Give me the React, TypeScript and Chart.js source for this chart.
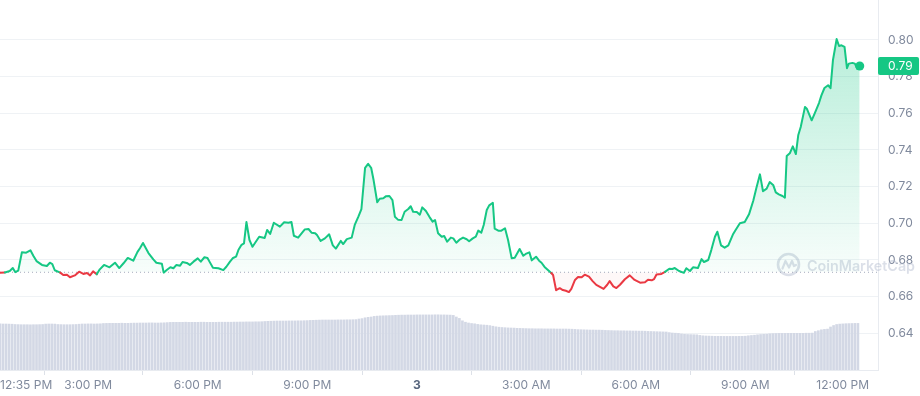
import React, { useEffect, useRef } from 'react';
import { Chart, registerables } from 'chart.js';

Chart.register(...registerables);

const GREEN = '#16c784';
const RED = '#ea3943';
const OPEN_PRICE = 0.6733;

// minutes since 12:35 PM
const PRICE_MINUTES = [
  0, 8, 16, 21, 25, 30, 36, 43, 50, 55, 60, 69, 77, 82, 86, 90, 99, 104, 110, 115,
  123, 130, 137, 143, 148, 153, 159, 164, 171, 180, 189, 196, 203, 210, 219, 226, 230, 235, 244, 252,
  257, 266, 269, 274, 280, 285, 290, 296, 300, 307, 312, 318, 325, 330, 336, 341, 345, 350, 359, 367,
  372, 378, 383, 388, 392, 397, 401, 405, 410, 415, 421, 426, 435, 439, 444, 450, 460, 467, 474, 479,
  483, 490, 496, 501, 507, 512, 518, 521, 527, 534, 541, 547, 552, 560, 564, 570, 578, 583, 589, 594,
  600, 605, 610, 614, 620, 624, 630, 634, 640, 645, 649, 654, 660, 665, 671, 675, 679, 685, 690, 694,
  700, 706, 711, 715, 720, 726, 730, 735, 741, 745, 750, 756, 761, 767, 771, 777, 782, 786, 791, 795,
  800, 804, 810, 813, 819, 824, 830, 835, 841, 846, 854, 860, 864, 870, 874, 881, 886, 890, 895, 906,
  909, 914, 920, 925, 930, 935, 939, 945, 950, 956, 961, 968, 974, 980, 986, 992, 998, 1002, 1008, 1013,
  1019, 1027, 1035, 1043, 1052, 1060, 1065, 1071, 1075, 1079, 1087, 1093, 1100, 1105, 1109, 1116, 1124, 1128, 1134, 1139,
  1147, 1153, 1157, 1164, 1169, 1175, 1179, 1185, 1191, 1197, 1205, 1209, 1216, 1224, 1231, 1238, 1243, 1249, 1254, 1260,
  1265, 1271, 1275, 1280, 1286, 1290, 1293, 1298, 1303, 1308, 1312, 1316, 1323, 1326, 1334, 1339, 1346, 1350, 1355, 1361,
  1365, 1369, 1375, 1379, 1383, 1388, 1392, 1395, 1401, 1405, 1409, 1413,
];

const PRICE_VALUES = [
  0.6731, 0.6732, 0.674, 0.6756, 0.6734, 0.6742, 0.6842, 0.684, 0.6853, 0.6822, 0.6794, 0.6773, 0.6767, 0.6785, 0.6778, 0.6744, 0.6731, 0.6718, 0.672, 0.6706,
  0.6716, 0.6736, 0.6724, 0.6729, 0.6716, 0.6738, 0.6722, 0.6749, 0.6773, 0.676, 0.6785, 0.6756, 0.6782, 0.6811, 0.6796, 0.6844, 0.6864, 0.6893, 0.6838, 0.6803,
  0.6785, 0.678, 0.6731, 0.6745, 0.676, 0.6755, 0.6773, 0.6769, 0.6789, 0.6784, 0.6773, 0.6791, 0.6809, 0.6791, 0.6815, 0.6811, 0.6787, 0.6758, 0.6755, 0.6745,
  0.6763, 0.6791, 0.6811, 0.6818, 0.6856, 0.6883, 0.6891, 0.7007, 0.6909, 0.6872, 0.6902, 0.6927, 0.692, 0.6964, 0.6942, 0.7003, 0.6982, 0.7006, 0.7003, 0.7007,
  0.6932, 0.6922, 0.6947, 0.6967, 0.6969, 0.6949, 0.6946, 0.6936, 0.6904, 0.6918, 0.694, 0.688, 0.6862, 0.6904, 0.6887, 0.6914, 0.6922, 0.6991, 0.7036, 0.7078,
  0.7302, 0.7324, 0.7303, 0.7236, 0.7115, 0.7134, 0.7137, 0.7147, 0.7149, 0.7127, 0.7036, 0.702, 0.7018, 0.7063, 0.7078, 0.7093, 0.7063, 0.7062, 0.7047, 0.7087,
  0.7067, 0.7034, 0.7009, 0.7018, 0.6946, 0.6927, 0.6931, 0.69, 0.6922, 0.6918, 0.6894, 0.6913, 0.6922, 0.6913, 0.6902, 0.6918, 0.6927, 0.696, 0.6949, 0.6991,
  0.7073, 0.7098, 0.7112, 0.6971, 0.696, 0.696, 0.6973, 0.6909, 0.6809, 0.6812, 0.686, 0.6823, 0.6833, 0.6842, 0.6798, 0.6818, 0.6796, 0.6785, 0.6762, 0.6729,
  0.6718, 0.6635, 0.6646, 0.6636, 0.6632, 0.6625, 0.6642, 0.6691, 0.6707, 0.6706, 0.672, 0.6709, 0.6685, 0.6664, 0.6653, 0.6642, 0.6665, 0.6685, 0.6656, 0.6647,
  0.6665, 0.6695, 0.6716, 0.6691, 0.6676, 0.6678, 0.6692, 0.6689, 0.6696, 0.6721, 0.6724, 0.6735, 0.6752, 0.6751, 0.6756, 0.674, 0.673, 0.6755, 0.674, 0.676,
  0.6756, 0.6805, 0.6789, 0.68, 0.6854, 0.6927, 0.6954, 0.688, 0.6867, 0.688, 0.6942, 0.6964, 0.7, 0.7007, 0.7049, 0.7123, 0.7191, 0.7267, 0.7175, 0.7189,
  0.7225, 0.7207, 0.7169, 0.7158, 0.7149, 0.714, 0.7367, 0.7382, 0.742, 0.7378, 0.7482, 0.7525, 0.7635, 0.7625, 0.7562, 0.76, 0.7656, 0.7698, 0.7738, 0.7753,
  0.7737, 0.7891, 0.8005, 0.7967, 0.7971, 0.7962, 0.7846, 0.7871, 0.7875, 0.7871, 0.7842, 0.7858,
];

// rolling 24h volume, one bar every 5 minutes (millions)
const VOLUME_INTERVAL_MIN = 5;
const VOLUME_24H_M = [
  461, 460, 460, 459, 458,
  455, 454, 453, 453, 453, 452, 453, 453, 454, 455,
  459, 460, 460, 459,
  455, 454, 453, 453, 453, 454, 455,
  458, 460, 460, 461, 461, 460, 461, 462,
  465, 466, 467, 467, 467, 467, 468, 467, 467, 468, 469, 469,
  470, 470, 470, 471, 471, 470, 470, 471, 472,
  474, 476, 477, 477, 477, 477, 478, 477, 477, 477, 477, 478, 478, 477, 477, 477, 477, 478, 478, 478, 478, 478, 479, 479,
  480, 480, 481, 481, 481, 482, 482, 483, 485,
  487, 488, 489, 490, 490, 490, 490, 491, 491, 491, 492, 492, 493, 494,
  496, 497, 498, 499, 500, 500, 500, 500, 500, 501, 501, 501, 502, 502, 503, 504,
  510, 514,
  522, 527, 530,
  536, 539, 541, 542, 543, 544, 545,
  547, 548, 549, 549, 550, 550, 550, 551, 551, 551, 551, 551, 551, 552, 552, 551, 551, 550, 549, 546,
  530, 516,
  492, 478,
  470, 465, 462,
  456, 452, 450, 448,
  444, 438,
  432, 428, 425, 423, 421, 420, 419,
  417, 416, 415, 414, 413, 413, 412, 412, 412, 411, 411, 411, 411, 410, 410, 410, 410, 409, 408, 406,
  404, 403, 402, 401, 400, 400, 399, 399, 398,
  396, 395, 394, 393, 393, 392, 392, 391, 391, 390, 390, 389, 389, 388,
  386, 385, 384, 383, 382, 381, 380,
  374, 370, 368, 366,
  360, 357, 355, 354, 353, 352,
  346, 342, 340, 339, 338, 337, 337, 337, 336, 336, 336, 336, 336, 337, 337, 338,
  342, 345, 348,
  352, 355, 357, 358,
  362, 364, 365, 366, 366, 366, 367, 367, 367, 367, 367, 367, 368, 368, 369,
  385, 393,
  402, 406, 409,
  430, 445,
  455, 459, 461, 463, 464, 465, 466, 466,
];

const X_MIN = 0;
const X_MAX = 1443;
const X_TICK_MINUTES = [0, 145, 325, 505, 685, 865, 1045, 1225, 1385, 1443];
const X_TICK_LABELS = ['12:35 PM', '3:00 PM', '6:00 PM', '9:00 PM', '3', '3:00 AM', '6:00 AM', '9:00 AM', '12:00 PM', ''];
const Y_TICKS = [0.64, 0.66, 0.68, 0.7, 0.72, 0.74, 0.76, 0.78, 0.8];
const Y_MIN = 0.62;
const Y_MAX = 0.8218;
const VOLUME_AXIS_MAX = 3700;

const FONT = 'Inter, "Noto Sans", sans-serif';
const LABEL_COLOR = '#808a9d';

const watermarkPlugin = {
  id: 'cmcWatermark',
  beforeDatasetsDraw(chart: any) {
    const { ctx, chartArea } = chart;
    const cx = chartArea.right - 89.5;
    const cy = chartArea.bottom - 105.5;
    const color = 'rgba(175,184,204,0.45)';
    ctx.save();
    ctx.strokeStyle = color;
    ctx.lineWidth = 2.6;
    ctx.beginPath();
    ctx.arc(cx, cy, 10.5, 0, Math.PI * 2);
    ctx.stroke();
    ctx.lineWidth = 2.2;
    ctx.lineJoin = 'round';
    ctx.lineCap = 'round';
    ctx.beginPath();
    ctx.moveTo(cx - 6, cy + 4);
    ctx.lineTo(cx - 3, cy - 3.5);
    ctx.lineTo(cx + 0.5, cy + 3);
    ctx.lineTo(cx + 3.5, cy - 3.5);
    ctx.lineTo(cx + 5.5, cy + 1.5);
    ctx.lineTo(cx + 7.5, cy + 0.5);
    ctx.stroke();
    const text = 'CoinMarketCap';
    ctx.font = `600 16px ${FONT}`;
    const w = ctx.measureText(text).width;
    const size = (16 * 108) / w;
    ctx.font = `600 ${size.toFixed(2)}px ${FONT}`;
    ctx.fillStyle = color;
    ctx.textAlign = 'left';
    ctx.textBaseline = 'alphabetic';
    ctx.fillText(text, cx + 18.5, cy + 6.5);
    ctx.restore();
  },
};

const priceTagPlugin = {
  id: 'priceTag',
  afterDraw(chart: any) {
    const { ctx, chartArea } = chart;
    const last = PRICE_VALUES[PRICE_VALUES.length - 1];
    const y = chart.scales.y.getPixelForValue(last);
    const x0 = chartArea.right;
    const w = chart.width - x0 - 1;
    ctx.save();
    ctx.fillStyle = GREEN;
    ctx.beginPath();
    if (ctx.roundRect) ctx.roundRect(x0, y - 9, w, 18, 2);
    else ctx.rect(x0, y - 9, w, 18);
    ctx.fill();
    ctx.fillStyle = '#ffffff';
    ctx.font = `12px ${FONT}`;
    ctx.textAlign = 'left';
    ctx.textBaseline = 'middle';
    ctx.fillText(last.toFixed(2), x0 + 10, y + 0.5);
    ctx.restore();
  },
};

export default function App() {
  const ref = useRef<HTMLCanvasElement>(null);

  useEffect(() => {
    const canvas = ref.current;
    if (!canvas) return;
    const priceData = PRICE_MINUTES.map((m, i) => ({ x: m, y: PRICE_VALUES[i] }));
    const volData = VOLUME_24H_M.map((v, i) => ({ x: i * VOLUME_INTERVAL_MIN, y: v }));
    const lastIdx = priceData.length - 1;

    const chart = new Chart(canvas, {
      type: 'line',
      data: {
        datasets: [
          {
            type: 'line',
            label: 'Price',
            data: priceData,
            yAxisID: 'y',
            order: 0,
            borderColor: GREEN,
            borderWidth: 2,
            borderJoinStyle: 'round',
            borderCapStyle: 'round',
            tension: 0,
            pointRadius: (c: any) => (c.dataIndex === lastIdx ? 4.5 : 0),
            pointBackgroundColor: GREEN,
            pointBorderWidth: 0,
            pointHoverRadius: 0,
            segment: {
              borderColor: (c: any) => ((c.p0.parsed.y + c.p1.parsed.y) / 2 < OPEN_PRICE ? RED : GREEN),
            },
            fill: {
              target: { value: OPEN_PRICE },
              above: 'rgba(22,199,132,0.12)',
              below: 'rgba(234,57,67,0.035)',
            },
          } as any,
          {
            type: 'line',
            label: 'Open',
            data: [
              { x: X_MIN, y: OPEN_PRICE },
              { x: X_MAX, y: OPEN_PRICE },
            ],
            yAxisID: 'y',
            order: 1,
            borderColor: '#a3abbd',
            borderWidth: 1,
            borderDash: [1, 3],
            pointRadius: 0,
            fill: false,
          } as any,
          {
            type: 'bar',
            label: 'Volume',
            data: volData,
            yAxisID: 'yv',
            order: 2,
            backgroundColor: '#d3d8e5',
            barThickness: 2,
            borderWidth: 0,
          } as any,
        ],
      },
      options: {
        responsive: false,
        devicePixelRatio: 1,
        animation: false,
        events: [],
        layout: { padding: 0, autoPadding: false },
        plugins: {
          legend: { display: false },
          tooltip: { enabled: false },
        },
        scales: {
          x: {
            type: 'linear',
            min: X_MIN,
            max: X_MAX,
            offset: false,
            afterBuildTicks: (axis: any) => {
              axis.ticks = X_TICK_MINUTES.map((v) => ({ value: v }));
            },
            afterFit: (s: any) => {
              s.height = 26;
              s.paddingLeft = 0;
              s.paddingRight = 0;
            },
            grid: {
              display: true,
              drawOnChartArea: false,
              drawTicks: true,
              tickLength: 5,
              tickColor: (c: any) => (c.index === X_TICK_MINUTES.length - 1 ? 'rgba(0,0,0,0)' : '#dde1e8'),
            },
            border: { display: true, color: '#e8ebf0', width: 1 },
            ticks: {
              autoSkip: false,
              maxRotation: 0,
              minRotation: 0,
              align: 'inner',
              padding: 3,
              callback: (_v: any, i: number) => X_TICK_LABELS[i],
              color: (c: any) => (c.index === 4 ? '#58667e' : LABEL_COLOR),
              font: (c: any) => ({ family: FONT, size: 12, weight: c.index === 4 ? 'bold' : 'normal' }),
            },
          } as any,
          y: {
            type: 'linear',
            position: 'right',
            min: Y_MIN,
            max: Y_MAX,
            afterBuildTicks: (axis: any) => {
              axis.ticks = Y_TICKS.map((v) => ({ value: v }));
            },
            afterFit: (s: any) => {
              s.width = 42;
              s.paddingTop = 0;
              s.paddingBottom = 0;
            },
            grid: { color: '#eff2f5', drawTicks: false, lineWidth: 1 },
            border: { display: true, color: '#e8ebf0', width: 1 },
            ticks: {
              padding: 10,
              color: LABEL_COLOR,
              font: { family: FONT, size: 12 },
              callback: (v: any) => Number(v).toFixed(2),
            },
          } as any,
          yv: {
            type: 'linear',
            display: false,
            min: 0,
            max: VOLUME_AXIS_MAX,
          } as any,
        },
      },
      plugins: [watermarkPlugin, priceTagPlugin],
    } as any);

    const yScale: any = chart.scales.y;
    const ctx = canvas.getContext('2d');
    if (ctx) {
      const g = ctx.createLinearGradient(0, yScale.getPixelForValue(Y_TICKS[Y_TICKS.length - 1]), 0, yScale.getPixelForValue(OPEN_PRICE));
      g.addColorStop(0, 'rgba(22,199,132,0.30)');
      g.addColorStop(1, 'rgba(22,199,132,0.03)');
      (chart.data.datasets[0] as any).fill.above = g;
      chart.update('none');
    }

    return () => chart.destroy();
  }, []);

  return (
    <div style={{ position: 'absolute', left: 0, top: 0, width: 920, height: 396, background: '#ffffff' }}>
      <canvas ref={ref} width={920} height={396} style={{ display: 'block', width: 920, height: 396 }} />
    </div>
  );
}
